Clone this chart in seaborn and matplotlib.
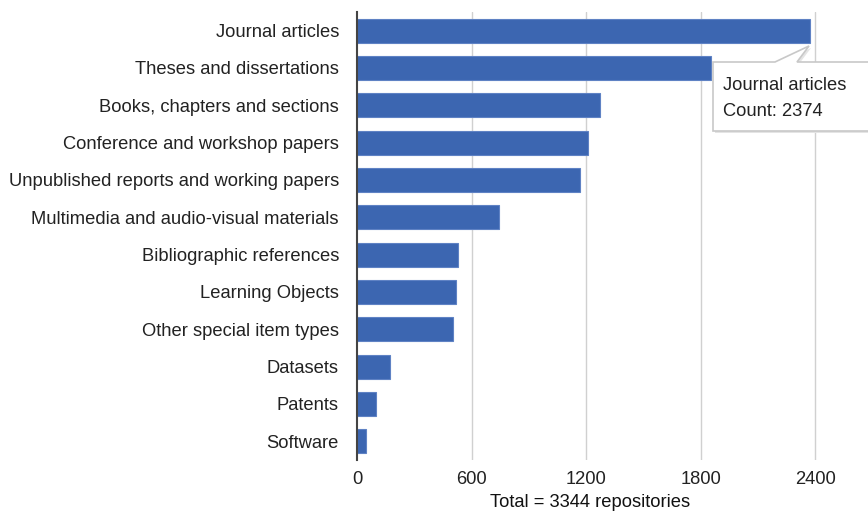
import matplotlib
matplotlib.use("Agg")
import matplotlib.pyplot as plt
import seaborn as sns
import pandas as pd
from matplotlib.patches import Polygon

# %%
# Data
categories = [
    "Journal articles",
    "Theses and dissertations",
    "Books, chapters and sections",
    "Conference and workshop papers",
    "Unpublished reports and working papers",
    "Multimedia and audio-visual materials",
    "Bibliographic references",
    "Learning Objects",
    "Other special item types",
    "Datasets",
    "Patents",
    "Software",
]
counts = [2374, 1851, 1273, 1207, 1168, 744, 527, 520, 504, 175, 101, 46]
x_ticks = [0, 600, 1200, 1800, 2400]
total_repos = 3344

df = pd.DataFrame({"type": categories, "count": counts})

# %%
sns.set_style("white")
plt.rcParams["font.family"] = ["Liberation Sans", "DejaVu Sans"]

W, H = 868, 512
fig = plt.figure(figsize=(W / 100, H / 100), dpi=100)
ax = fig.add_axes([357 / W, 1 - 460 / H, (823 - 357) / W, (460 - 12) / H])

sns.barplot(data=df, x="count", y="type", color="#3c66b1", width=0.65,
            edgecolor="#5f82c4", linewidth=0.8, saturation=1, ax=ax, zorder=3)

ax.set_xlim(0, 2440)
ax.set_xticks(x_ticks)
ax.set_xticklabels([str(t) for t in x_ticks], fontsize=13.2, color="#222222")
ax.tick_params(axis="y", labelsize=13.2, labelcolor="#222222", length=0, pad=13)
ax.tick_params(axis="x", length=0, pad=8)
ax.set_ylabel("")
ax.set_xlabel(f"Total = {total_repos} repositories", fontsize=13.2, color="#111111", labelpad=4)

for t in x_ticks[1:]:
    ax.axvline(t, color="#d0d0d0", lw=1.0, zorder=1)
for s in ["top", "right", "bottom"]:
    ax.spines[s].set_visible(False)
ax.spines["left"].set_color("#444444")
ax.spines["left"].set_linewidth(1.5)
ax.spines["left"].set_zorder(4)


# %%
# Tooltip over the first bar (drawn in pixel coordinates)
def px(x, y):
    return (x / W, 1 - y / H)

tip = [(713, 62), (775, 62), (809, 46), (797, 62), (875, 62), (875, 131), (713, 131)]
shadow = Polygon([px(x + 2, y + 2) for x, y in tip], closed=True, transform=fig.transFigure,
                 facecolor="#e4e4e4", edgecolor="none", zorder=8)
box = Polygon([px(x, y) for x, y in tip], closed=True, transform=fig.transFigure,
              facecolor="white", edgecolor="#c8c8c8", lw=1.2, zorder=9)
fig.patches.extend([shadow, box])
fig.text(*px(723, 90), categories[0], fontsize=13.2, color="#222222", zorder=10)
fig.text(*px(723, 116), f"Count: {counts[0]}", fontsize=13.2, color="#222222", zorder=10)

fig.savefig("out.png", dpi=100)
